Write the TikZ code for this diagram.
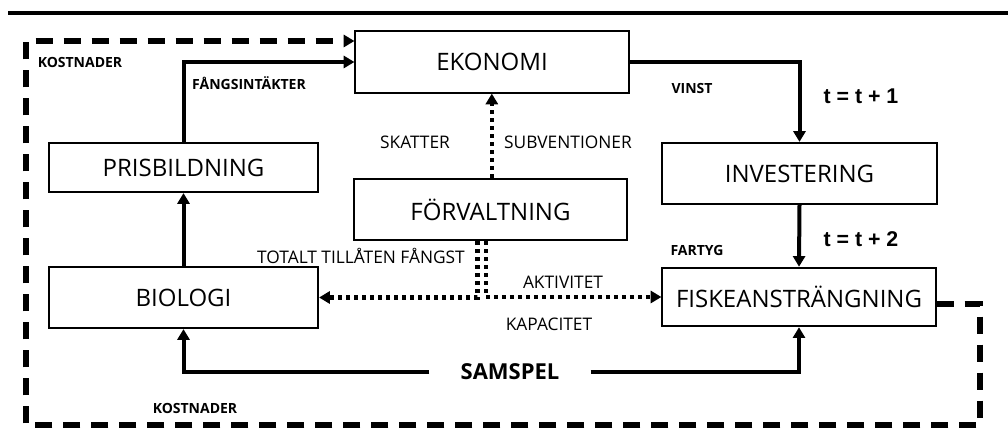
\documentclass[tikz,border=0pt]{standalone}
\usepackage{fontspec}
\setmainfont{Open Sans}
\newfontfamily\arialfont{Liberation Sans}
\usetikzlibrary{arrows.meta}
\tikzset{every picture/.style={line width=0.75pt}}

\begin{document}
\begin{tikzpicture}[x=0.75pt,y=0.75pt,yscale=-1,xscale=1,
  boxnode/.style={draw,line width=1.4pt,inner sep=0pt,minimum width=205pt,minimum height=46pt,font=\fontsize{18}{21}\selectfont},
  flow/.style={line width=3pt,-{Triangle[length=8pt,width=9pt]}},
  ruleflow/.style={line width=3.5pt,dash pattern=on 3pt off 3pt,-{Triangle[length=8pt,width=9pt]}},
  costloop/.style={line width=3.8pt,dash pattern=on 12.75pt off 8.25pt,-{Triangle[length=8pt,width=9pt]}},
  boldlabel/.style={font=\fontsize{10.5}{12}\selectfont\bfseries},
  thinlabel/.style={font=\fontsize{13}{15}\selectfont},
  steplabel/.style={font=\arialfont\fontsize{16}{18}\selectfont\bfseries}]
\path[use as bounding box] (0,0) rectangle (1008,448);

% Rule
\draw[line width=2.5pt] (8,13) -- (1008,13);

% Text Node
\node[boxnode] (ekonomi) at (492,62) {EKONOMI};
% Text Node
\node[boxnode,minimum width=202pt,minimum height=37pt] (prisbildning) at (183.5,167.5) {PRISBILDNING};
% Text Node
\node[boxnode,minimum width=205pt] (forvaltning) at (490.5,209.5) {FÖRVALTNING};
% Text Node
\node[boxnode,minimum width=206pt] (investering) at (799.5,173.5) {INVESTERING};
% Text Node
\node[boxnode,minimum width=202pt] (biologi) at (183.5,297.5) {BIOLOGI};
% Text Node
\node[boxnode,minimum height=44pt] (fiske) at (799,297) {FISKEANSTRÄNGNING};
% Text Node
\node[font=\fontsize{16.5}{18}\selectfont\bfseries,inner xsep=23pt] (samspel) at (510,372) {SAMSPEL};

% Labels
\node[boldlabel] (kostnaderup) at (80,62) {KOSTNADER};
\node[boldlabel] (kostnaderdown) at (195,408) {KOSTNADER};
\node[boldlabel] (fangst) at (249,83) {FÅNGSINTÄKTER};
\node[boldlabel] (vinst) at (692,89) {VINST};
\node[boldlabel] (fartyg) at (697,251) {FARTYG};
\node[steplabel] (step1) at (861,96) {t = t + 1};
\node[steplabel] (step2) at (861,239) {t = t + 2};
\node[thinlabel] (skatter) at (415,142) {SKATTER};
\node[thinlabel] (subv) at (568,142) {SUBVENTIONER};
\node[thinlabel] (tac) at (361,256) {TOTALT TILLÅTEN FÅNGST};
\node[thinlabel] (aktivitet) at (563,282) {AKTIVITET};
\node[thinlabel] (kapacitet) at (549,324) {KAPACITET};

% Connection
\draw[flow] (prisbildning.north) |- (ekonomi.west);
% Connection
\draw[flow] (biologi.north) -- (prisbildning.south);
% Connection
\draw[flow] (ekonomi.east) -| (investering.north);
% Connection
\draw[flow] (investering.south) -- (fiske.north);
% Connection
\draw[flow] (samspel.west) -| (biologi.south);
% Connection
\draw[flow] (samspel.east) -| (fiske.south);
% Connection
\draw[ruleflow] ([xshift=1pt]forvaltning.north) -- ([xshift=1pt]forvaltning.north |- ekonomi.south);
% Connection
\draw[ruleflow] ([xshift=-10pt]forvaltning.south) |- (biologi.east);
% Connection
\draw[ruleflow] ([xshift=-3.5pt]forvaltning.south) |- (fiske.west);

% Cost loop
\coordinate (lout) at (980,304);
\coordinate (lr) at (980,425);
\coordinate (ll) at (26,425);
\coordinate (ul) at (26,41);
\draw[costloop] (fiske.east |- lout) -- (lout) -- (lr) -- (ll) -- (ul) -- (ul -| ekonomi.west);

\end{tikzpicture}
\end{document}
